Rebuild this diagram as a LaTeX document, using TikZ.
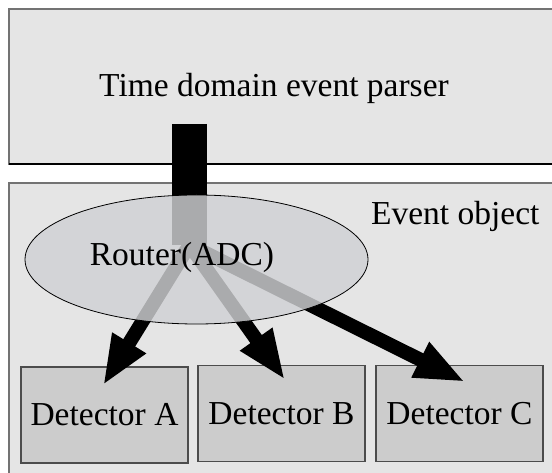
\documentclass[tikz,border=0pt]{standalone}
\usepackage{fontspec}
\setmainfont{Liberation Serif}
\usetikzlibrary{shapes.geometric,arrows.meta}
\definecolor{panelgray}{gray}{0.9}
\definecolor{detgray}{gray}{0.8}
\definecolor{routergray}{RGB}{208,209,212}
\tikzset{
	panel/.style={fill=panelgray,draw=black!55,line width=1.2pt},
	detbox/.style={fill=detgray,draw=black!70,line width=1.2pt,minimum width=167pt,minimum height=96pt,inner sep=0pt},
	flow/.style={line width=14pt,-{Triangle[length=50pt,width=36pt]}}
}
\begin{document}
\begin{tikzpicture}[x=1pt,y=-1pt,font=\fontsize{33.5}{40}\selectfont]
	\useasboundingbox (0,0) rectangle (552,473);
	\clip (0,0) rectangle (552,473);

	\draw[panel] (9,9) rectangle (570,164);
	\draw[line width=1.2pt] (9,164)--(570,164);
	\node[anchor=base] (parser) at (274,97) {Time domain event parser};

	\draw[panel] (9,183) rectangle (570,490);
	\node[anchor=base east] (eventlabel) at (543,225) {Event object};

	\node[detbox] (detA) at (104.5,415) {Detector A};
	\node[detbox] (detB) at (281.5,413.5) {Detector B};
	\node[detbox] (detC) at (459.5,413.5) {Detector C};

	% feed and branches
	\coordinate (tap) at (189.5,124);
	\coordinate (hub) at (189.5,245);
	\draw[line width=35pt] (tap)--(hub);
	\draw[flow] (hub)--([shift={(-1.5,19)}]detA.north);
	\draw[flow] (hub)--([shift={(3.5,15)}]detB.north);
	\draw[flow] (hub)--([shift={(5.5,17)}]detC.north);

	\node[ellipse,draw,line width=0.8pt,fill=routergray,fill opacity=0.82,minimum width=343pt,minimum height=129pt] (router) at (196.5,259.5) {};
	\node[anchor=base] (routertext) at (182,266) {Router(ADC)};
\end{tikzpicture}
\end{document}
